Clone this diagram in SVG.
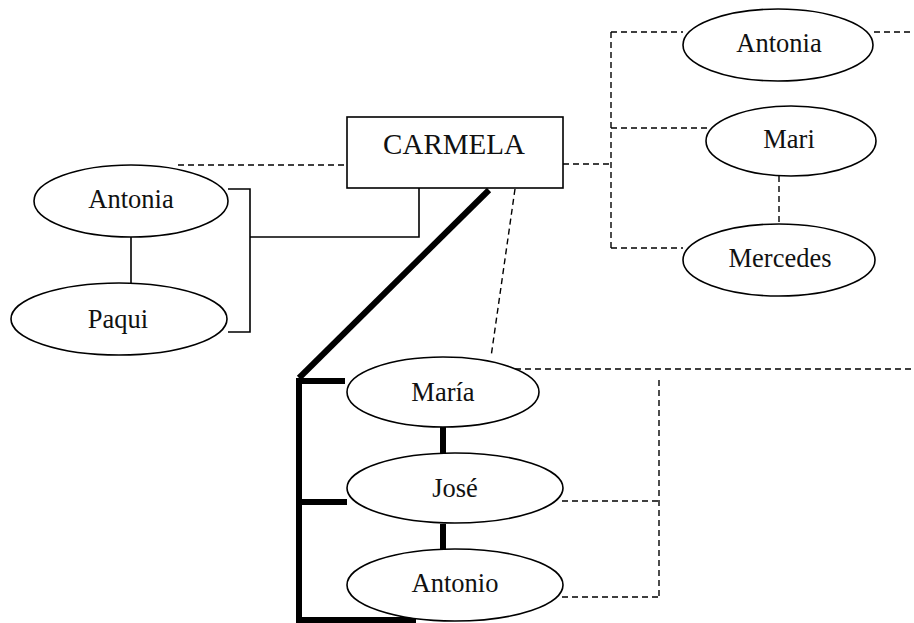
<svg xmlns="http://www.w3.org/2000/svg" width="914" height="623" viewBox="0 0 914 623">
  <style>
    .bg { fill: #ffffff; }
    .node ellipse, .node rect { fill: #ffffff; stroke: #000000; stroke-width: 1.6; }
    .label { font-size: 26.5px; fill: #111111; text-anchor: middle; }
    .title { font-size: 29px; }
    .thin { fill: none; stroke: #000000; stroke-width: 1.6; }
    .dash { fill: none; stroke: #000000; stroke-width: 1.4; stroke-dasharray: 6 4; }
    .thick { fill: none; stroke: #000000; stroke-width: 6; }
  </style>
  <rect class="bg" x="0" y="0" width="914" height="623"/>

  <g id="connectors">
    <!-- left family, solid -->
    <line class="thin" x1="131" y1="237" x2="131" y2="283"/>
    <polyline class="thin" points="228,189 250,189 250,332 228,332"/>
    <polyline class="thin" points="250,237 419,237 419,188"/>
    <line class="dash" x1="178" y1="165" x2="346" y2="165"/>

    <!-- right family, dashed -->
    <line class="dash" x1="563" y1="164" x2="611" y2="164"/>
    <line class="dash" x1="611" y1="32" x2="611" y2="248"/>
    <line class="dash" x1="611" y1="32" x2="683" y2="32"/>
    <line class="dash" x1="611" y1="128" x2="707" y2="128"/>
    <line class="dash" x1="611" y1="248" x2="683" y2="248"/>
    <line class="dash" x1="874" y1="32" x2="914" y2="32"/>
    <line class="dash" x1="779" y1="176" x2="779" y2="224"/>

    <!-- lower family, heavy -->
    <line class="thick" x1="489" y1="190" x2="299" y2="378"/>
    <polyline class="thick" points="345,381 299,381 299,620 416,620"/>
    <line class="thick" x1="299" y1="502" x2="347" y2="502"/>
    <line class="thick" x1="443" y1="427" x2="443" y2="453"/>
    <line class="thick" x1="443" y1="524" x2="443" y2="549"/>

    <!-- lower family, dashed -->
    <line class="dash" x1="515" y1="189" x2="491" y2="357"/>
    <line class="dash" x1="515" y1="369" x2="914" y2="369"/>
    <line class="dash" x1="659" y1="380" x2="659" y2="597"/>
    <line class="dash" x1="562" y1="501" x2="659" y2="501"/>
    <line class="dash" x1="562" y1="597" x2="659" y2="597"/>
  </g>

  <g font-family="'Liberation Serif', 'Times New Roman', 'DejaVu Serif', serif">
    <g id="carmela" class="node">
      <rect x="347" y="117" width="216" height="71"/>
      <text class="label title" x="454" y="154">CARMELA</text>
    </g>

    <g id="antonia-left" class="node">
      <ellipse cx="131" cy="201" rx="97" ry="36"/>
      <text class="label" x="131" y="208">Antonia</text>
    </g>

    <g id="paqui" class="node">
      <ellipse cx="119" cy="319" rx="108" ry="36"/>
      <text class="label" x="118" y="328">Paqui</text>
    </g>

    <g id="antonia-right" class="node">
      <ellipse cx="778" cy="45" rx="95" ry="36"/>
      <text class="label" x="779" y="52">Antonia</text>
    </g>

    <g id="mari" class="node">
      <ellipse cx="791" cy="141" rx="85" ry="35"/>
      <text class="label" x="789" y="148">Mari</text>
    </g>

    <g id="mercedes" class="node">
      <ellipse cx="779" cy="260" rx="96" ry="36"/>
      <text class="label" x="780" y="267">Mercedes</text>
    </g>

    <g id="maria" class="node">
      <ellipse cx="443" cy="392" rx="96" ry="35"/>
      <text class="label" x="443" y="401">María</text>
    </g>

    <g id="jose" class="node">
      <ellipse cx="455" cy="488" rx="108" ry="35"/>
      <text class="label" x="455" y="497">José</text>
    </g>

    <g id="antonio" class="node">
      <ellipse cx="455" cy="585" rx="108" ry="36"/>
      <text class="label" x="455" y="592">Antonio</text>
    </g>
  </g>
</svg>
